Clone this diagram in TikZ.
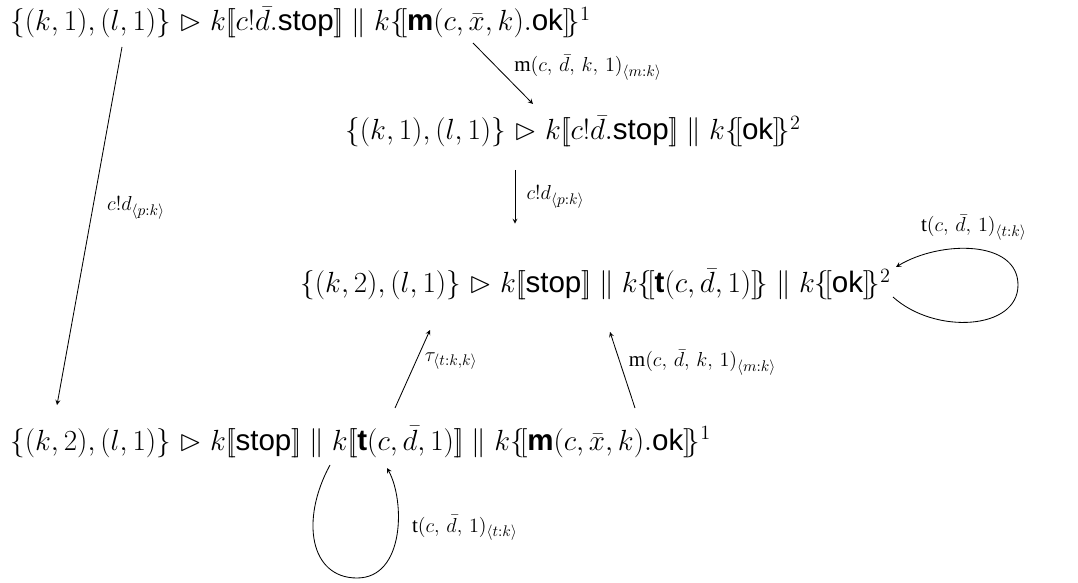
\documentclass[tikz,border=0pt]{standalone}
\usepackage{amssymb}
\usepackage{fontspec}
\setmainfont{Liberation Serif}
\setsansfont{Liberation Sans}
\usetikzlibrary{arrows}
\newcommand{\sembr}[1]{[\![#1]\!]}
\newcommand{\msgbr}[1]{\{\![#1]\!\}}
\newcommand{\pstop}{\textsf{stop}}
\newcommand{\pok}{\textsf{ok}}
\newcommand{\pmsg}{\textsf{\textbf{m}}}
\newcommand{\ptmr}{\textsf{\textbf{t}}}

\begin{document}
\begin{tikzpicture}[
    x=0.025cm, y=-0.025cm,
    state/.style={inner sep=0pt, anchor=base west, font=\fontsize{21}{25}\selectfont},
    lbl/.style={font=\fontsize{15}{18}\selectfont, inner sep=2pt},
    arrow/.style={->, >=stealth, line width=0.6pt}
]
    \useasboundingbox (0,0) rectangle (1078,583);

    \node[state] (s1) at (10,31) {$\{(k,1),(l,1)\} \vartriangleright k\sembr{c!\bar{d}.\pstop} \parallel k\msgbr{\pmsg(c,\bar{x},k).\pok}^1$};
    \node[state] (s2) at (345,140) {$\{(k,1),(l,1)\} \vartriangleright k\sembr{c!\bar{d}.\pstop} \parallel k\msgbr{\pok}^2$};
    \node[state] (s3) at (300,293) {$\{(k,2),(l,1)\} \vartriangleright k\sembr{\pstop} \parallel k\msgbr{\ptmr(c,\bar{d},1)} \parallel k\msgbr{\pok}^2$};
    \node[state] (s4) at (10,450) {$\{(k,2),(l,1)\} \vartriangleright k\sembr{\pstop} \parallel k\sembr{\ptmr(c,\bar{d},1)} \parallel k\msgbr{\pmsg(c,\bar{x},k).\pok}^1$};

    \draw[arrow] ([shift={(112,16)}]s1.base west) -- node[lbl, pos=0.45, right=8pt] {$c!d_{\langle p:k\rangle}$} ([shift={(47,-45)}]s4.base west);
    \draw[arrow] ([shift={(463,12)}]s1.base west) -- node[lbl, pos=0.4, right=10pt] {$\mathrm{m}(c,\,\bar{d},\,k,\,1)_{\langle m:k\rangle}$} ([shift={(188,-36)}]s2.base west);
    \draw[arrow] ([shift={(170,30)}]s2.base west) -- node[lbl, right=6pt] {$c!d_{\langle p:k\rangle}$} ([shift={(170,-45)}]s2.base west |- s3.north);
    \draw[arrow] ([shift={(385,-42)}]s4.base west) -- node[lbl, pos=0.6, right=4pt] {$\tau_{\langle t:k,k\rangle}$} ([shift={(130,37)}]s3.base west);
    \draw[arrow] ([shift={(625,-42)}]s4.base west) -- node[lbl, pos=0.6, right=4pt] {$\mathrm{m}(c,\,\bar{d},\,k,\,1)_{\langle m:k\rangle}$} ([shift={(310,39)}]s3.base west);

    % self loops
    \draw[arrow] ([shift={(2,4)}]s3.base east) .. controls +(42,38) and +(0,45) .. ++(125,-12)
        .. controls +(0,-45) and +(45,-27) .. node[lbl, pos=0.5, above=4pt] {$\mathrm{t}(c,\,\bar{d},\,1)_{\langle t:k\rangle}$} ++(-122,-18);
    \draw[arrow] ([shift={(320,15)}]s4.base west) .. controls +(-30,55) and +(-47,0) .. ++(27,113)
        .. controls +(48,0) and +(18,32) .. node[lbl, pos=0.55, right=8pt] {$\mathrm{t}(c,\,\bar{d},\,1)_{\langle t:k\rangle}$} ++(30,-110);
\end{tikzpicture}
\end{document}
